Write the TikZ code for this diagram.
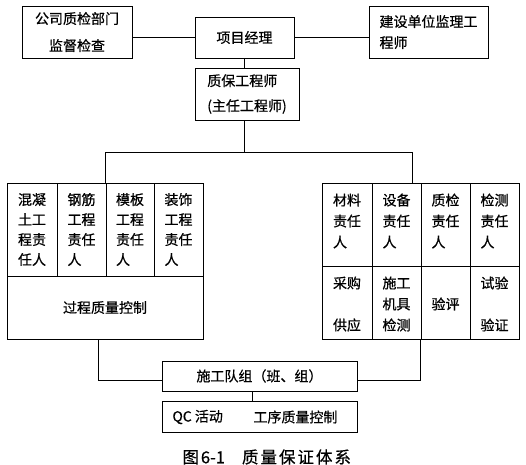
\documentclass[tikz,border=0pt]{standalone}
\usepackage{fontspec}
\setmainfont{Noto Sans CJK SC}[FakeBold=0.6]
\begin{document}
\begin{tikzpicture}[x=1pt,y=-1pt,line width=0.9pt,
  box/.style={draw,inner sep=0pt,font=\fontsize{14}{14}\selectfont},
  cell/.style={draw,inner sep=0pt},
  txt/.style={inner sep=0pt,align=left,font=\fontsize{14}{20}\selectfont},
  rtxt/.style={inner sep=0pt,align=left,font=\fontsize{14}{21}\selectfont}]
\useasboundingbox (0,0) rectangle (526,464);
% top row
\node[box,minimum width=110pt,minimum height=52pt,align=center,font=\fontsize{14}{27}\selectfont] (A) at (77,32) {公司质检部门\\监督检查};
\node[box,minimum width=99pt,minimum height=41pt] (B) at (244.5,37.5) {项目经理};
\node[box,minimum width=119pt,minimum height=52pt,align=left,font=\fontsize{14}{21}\selectfont] (C) at (428.5,32) {建设单位监理工\\程师};
\node[box,minimum width=104pt,minimum height=52pt,align=left,font=\fontsize{14}{25}\selectfont] (D) at (247,94) {质保工程师\\(主任工程师)};
% left grid
\node[cell,minimum width=50pt,minimum height=93pt] (L1) at (32,229.5) {};
\node[cell,minimum width=49pt,minimum height=93pt] (L2) at (81.5,229.5) {};
\node[cell,minimum width=48pt,minimum height=93pt] (L3) at (130,229.5) {};
\node[cell,minimum width=49pt,minimum height=93pt] (L4) at (178.5,229.5) {};
\node[cell,minimum width=196pt,minimum height=63pt] (LB) at (105,307.5) {};
\node[txt] (l1t) at (L1.center) {混凝\\土工\\程责\\任人};
\node[txt] (l2t) at (L2.center) {钢筋\\工程\\责任\\人};
\node[txt] (l3t) at (L3.center) {模板\\工程\\责任\\人};
\node[txt] (l4t) at (L4.center) {装饰\\工程\\责任\\人};
\node[txt] (lbt) at (LB.center) {过程质量控制};
% right grid
\node[cell,minimum width=50pt,minimum height=83pt] (R1) at (347,224.5) {};
\node[cell,minimum width=49pt,minimum height=83pt] (R2) at (396.5,224.5) {};
\node[cell,minimum width=49pt,minimum height=83pt] (R3) at (445.5,224.5) {};
\node[cell,minimum width=49pt,minimum height=83pt] (R4) at (494.5,224.5) {};
\node[cell,minimum width=50pt,minimum height=73pt] (S1) at (347,302.5) {};
\node[cell,minimum width=49pt,minimum height=73pt] (S2) at (396.5,302.5) {};
\node[cell,minimum width=49pt,minimum height=73pt] (S3) at (445.5,302.5) {};
\node[cell,minimum width=49pt,minimum height=73pt] (S4) at (494.5,302.5) {};
\node[rtxt] (r1t) at (347,221) {材料\\责任\\人};
\node[rtxt] (r2t) at (396.5,221) {设备\\责任\\人};
\node[rtxt] (r3t) at (445.5,221) {质检\\责任\\人};
\node[rtxt] (r4t) at (494.5,221) {检测\\责任\\人};
\node[rtxt] (s1a) at (347,283) {采购};
\node[rtxt] (s1b) at (347,325) {供应};
\node[rtxt] (s2t) at (396.5,304) {施工\\机具\\检测};
\node[rtxt] (s3t) at (445.5,304) {验评};
\node[rtxt] (s4a) at (494.5,283) {试验};
\node[rtxt] (s4b) at (494.5,325) {验证};
% bottom
\node[box,minimum width=195pt,minimum height=30pt] (E) at (259.5,376) {施工队组（班、组）};
\node[cell,minimum width=195pt,minimum height=31pt] (F) at (259.5,416.5) {};
\node[txt,anchor=west] (f1) at (172,417) {QC 活动};
\node[txt,anchor=west] (f2) at (253,417) {工序质量控制};
\node[inner sep=0pt,anchor=west,font=\fontsize{16.5}{16.5}\selectfont] (cap) at (182,457) {图\hspace{2pt}6-1\hspace{17pt}质\hspace{2pt}量\hspace{2pt}保\hspace{2pt}证\hspace{2pt}体\hspace{2pt}系};
% connectors
\draw (A.east |- B.west) -- (B.west);
\draw (B.east) -- (B.east -| C.west);
\coordinate (busL) at (105,152);
\coordinate (busR) at (412,152);
\draw (B.south) -- (B.south |- D.north);
\draw (B.south |- D.south) -- (B.south |- busL);
\draw (busL) -- (busR);
\draw (busL) -- (busL |- L2.north);
\draw (busR) -- (busR |- R2.north);
\coordinate (eL) at (98,380);
\coordinate (eR) at (420,380);
\draw (eL |- LB.south) -- (eL) -- (eL -| E.west);
\draw (eR |- S3.south) -- (eR) -- (eR -| E.east);
\draw ([xshift=-7.5pt]E.south) -- ([xshift=-7.5pt]E.south |- F.north);
\end{tikzpicture}
\end{document}
